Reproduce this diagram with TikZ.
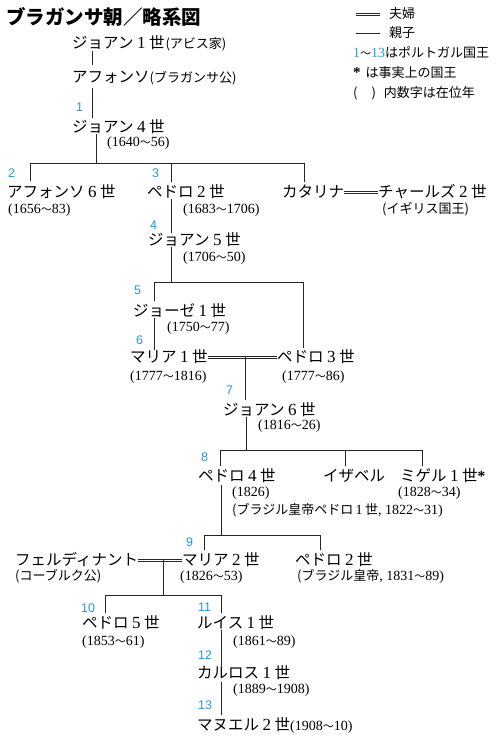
\documentclass[tikz,border=0pt]{standalone}
\usepackage{fontspec}
\setmainfont{Noto Sans CJK JP}
\newfontfamily\serfont{Liberation Serif}
\newfontfamily\numfont{Liberation Sans}
\definecolor{numblue}{RGB}{45,150,215}
\newcommand\dg[1]{\makebox[1em]{\serfont\fontsize{17}{17}\selectfont #1}}
\newcommand\sd{\serfont\fontsize{14}{14}\selectfont}
\newcommand\sm{\fontsize{13}{13}\selectfont}
\newcommand\wv{{\fontsize{11}{11}\selectfont ～}}
\newcommand\yr[2]{{\sd(#1}\wv{\sd #2)}}
\newcommand\dline[2]{%
  \draw[ln, line width=0.6pt] ([yshift=1.2pt]#1) -- ([yshift=1.2pt]#2);
  \draw[ln, line width=0.6pt] ([yshift=-1.2pt]#1) -- ([yshift=-1.2pt]#2);}
\tikzset{
  nm/.style={anchor=west, inner sep=0pt, text height=12.5pt, text depth=1.5pt, font=\fontsize{15.5}{15.5}\selectfont},
  yrs/.style={anchor=west, inner sep=0pt, text height=10pt, text depth=3pt, font=\fontsize{14}{14}\selectfont},
  nb/.style={anchor=west, inner sep=0pt, text height=9pt, text depth=0pt, font=\numfont\fontsize{12.5}{12.5}\selectfont, text=numblue},
  lg/.style={anchor=west, inner sep=0pt, text height=10pt, text depth=2pt, font=\fontsize{13}{13}\selectfont},
  ln/.style={line width=0.7pt, black!85},
  top/.style={shorten >=3pt}
}
\begin{document}
\begin{tikzpicture}[x=1pt,y=-1pt]
\fill[white] (0,0) rectangle (500,737);
\useasboundingbox (0,0) rectangle (500,737);

% title
\node[anchor=west, inner sep=0pt, font=\bfseries\fontsize{19.5}{19.5}\selectfont] (title) at (6,17) {ブラガンサ朝／略系図};

% legend
\coordinate (la1) at (356,14); \coordinate (la2) at (380,14);
\coordinate (lb1) at (356,33); \coordinate (lb2) at (380,33);
\dline{la1}{la2}
\draw[ln] (lb1) -- (lb2);
\node[lg] (lg1) at (389,14) {夫婦};
\node[lg] (lg2) at (389,33) {親子};
\node[lg] (lg3) at (353,53) {{\color{numblue}\sd 1}\wv{\color{numblue}\sd 13}はポルトガル国王};
\node[lg] (lg4) at (353,73) {{\serfont\bfseries\fontsize{15}{15}\selectfont *}\hspace{5pt}は事実上の国王};
\node[lg] (lg5) at (353,93) {(\hspace{14pt})\hspace{8pt}内数字は在位年};

% people
\node[nm] (j1) at (72,43) {ジョアン\dg{1}世\hspace{1pt}{\sm(アビス家)}};
\node[nm] (af) at (72,77) {アフォンソ{\sm(ブラガンサ公)}};
\node[nb] (n1) at (76,107) {1};
\node[nm] (j4) at (72,127) {ジョアン\dg{4}世};
\node[yrs] (j4y) at (107,143) {\yr{1640}{56}};

\node[nb] (n2) at (8,173) {2};
\node[nm] (a6) at (7,192) {アフォンソ\dg{6}世};
\node[yrs] (a6y) at (8,210) {\yr{1656}{83}};
\node[nb] (n3) at (152,173) {3};
\node[nm] (p2) at (147,192) {ペドロ\dg{2}世};
\node[yrs] (p2y) at (183,210) {\yr{1683}{1706}};
\node[nm] (ka) at (282,192) {カタリナ};
\node[nm] (ch) at (378,192) {チャールズ\dg{2}世};
\node[yrs] (chy) at (382,210) {\sm(イギリス国王)};

\node[nb] (n4) at (150,225) {4};
\node[nm] (j5) at (148,240) {ジョアン\dg{5}世};
\node[yrs] (j5y) at (183,258) {\yr{1706}{50}};

\node[nb] (n5) at (134,290) {5};
\node[nm] (jz) at (133,311) {ジョーゼ\dg{1}世};
\node[yrs] (jzy) at (167,328) {\yr{1750}{77}};
\node[nb] (n6) at (136,340) {6};
\node[nm] (m1) at (130,357) {マリア\dg{1}世};
\node[yrs] (m1y) at (130,377) {\yr{1777}{1816}};
\node[nm] (p3) at (277,357) {ペドロ\dg{3}世};
\node[yrs] (p3y) at (282,377) {\yr{1777}{86}};

\node[nb] (n7) at (226,390) {7};
\node[nm] (j6) at (223,410) {ジョアン\dg{6}世};
\node[yrs] (j6y) at (258,426) {\yr{1816}{26}};

\node[nb] (n8) at (201,457) {8};
\node[nm] (p4) at (198,476) {ペドロ\dg{4}世};
\node[yrs] (p4y) at (232,493) {{\sd(1826)}};
\node[yrs] (p4b) at (232,511) {\sm(ブラジル皇帝ペドロ{\sd\,1\,}世{\sd, 1822}\wv{\sd 31)}};
\node[nm] (is) at (323,476) {イザベル};
\node[nm] (mi) at (400,476) {ミゲル\dg{1}世{\serfont\bfseries *}};
\node[yrs] (miy) at (398,493) {\yr{1828}{34}};

\node[nb] (n9) at (186,542) {9};
\node[nm] (fe) at (15,560) {フェルディナント};
\node[yrs] (fey) at (15,577) {\sm(コーブルク公)};
\node[nm] (m2) at (182,560) {マリア\dg{2}世};
\node[yrs] (m2y) at (180,577) {\yr{1826}{53}};
\node[nm] (pb) at (295,560) {ペドロ\dg{2}世};
\node[yrs] (pby) at (297,577) {\sm(ブラジル皇帝{\sd, 1831}\wv{\sd 89)}};

\node[nb] (n10) at (81,608) {10};
\node[nm] (p5) at (82,623) {ペドロ\dg{5}世};
\node[yrs] (p5y) at (82,642) {\yr{1853}{61}};
\node[nb] (n11) at (198,607) {11};
\node[nm] (lu) at (197,623) {ルイス\dg{1}世};
\node[yrs] (luy) at (233,642) {\yr{1861}{89}};
\node[nb] (n12) at (198,655) {12};
\node[nm] (ca) at (197,673) {カルロス\dg{1}世};
\node[yrs] (cay) at (233,690) {\yr{1889}{1908}};
\node[nb] (n13) at (198,705) {13};
\node[nm] (mn) at (197,725) {マヌエル\dg{2}世\yr{1908}{10}};

% junction coordinates
\coordinate (b1) at (96,163);
\coordinate (b2) at (171,282);
\coordinate (s1) at (245,357);
\coordinate (b3) at (246,450);
\coordinate (b4) at (221,535);
\coordinate (s2) at (163,559);
\coordinate (b5) at (163,595);

% connectors
\draw[ln, shorten <=1pt, shorten >=5pt] (j1.south -| 92,0) -- (af.north -| 92,0);
\draw[ln, shorten <=4pt, shorten >=2pt] (af.south -| 92,0) -- (j4.north -| 92,0);
\draw[ln] (j4.south -| b1) -- (b1);
\draw[ln, shorten <=4pt, shorten >=3pt] (a6.north -| 30,0) -- (30,163) -- (304,163) -- (ka.north -| 304,0);
\draw[ln, top] (171,163) -- (p2.north -| 171,0);
\dline{ka.east}{ch.west}
\draw[ln] (p2.south -| 171,0) -- (j5.north -| 171,0);
\draw[ln] (j5.south -| b2) -- (b2);
\draw[ln, shorten <=3pt, shorten >=2pt] (jz.north -| 154,0) -- (154,282) -- (303,282) -- (p3.north -| 303,0);
\draw[ln] (jz.south -| 154,0) -- (m1.north -| 154,0);
\dline{m1.east}{p3.west}
\draw[ln, top] (s1) -- (j6.north -| s1);
\draw[ln] (j6.south -| b3) -- (b3);
\draw[ln, shorten <=3pt, shorten >=3pt] (p4.north -| 220,0) -- (220,450) -- (422,450) -- (mi.north -| 422,0);
\draw[ln, top] (345,450) -- (is.north -| 345,0);
\draw[ln, shorten <=2pt] (p4.south -| b4) -- (b4);
\draw[ln, shorten <=3pt, shorten >=3pt] (m2.north -| 204,0) -- (204,535) -- (320,535) -- (pb.north -| 320,0);
\dline{fe.east}{m2.west}
\draw[ln] (s2) -- (b5);
\draw[ln, shorten <=3pt, shorten >=3pt] (p5.north -| 105,0) -- (105,595) -- (221,595) -- (lu.north -| 221,0);
\draw[ln] (lu.south -| 221,0) -- (ca.north -| 221,0);
\draw[ln, shorten <=2pt, shorten >=3pt] (ca.south -| 221,0) -- (mn.north -| 221,0);
\end{tikzpicture}
\end{document}
